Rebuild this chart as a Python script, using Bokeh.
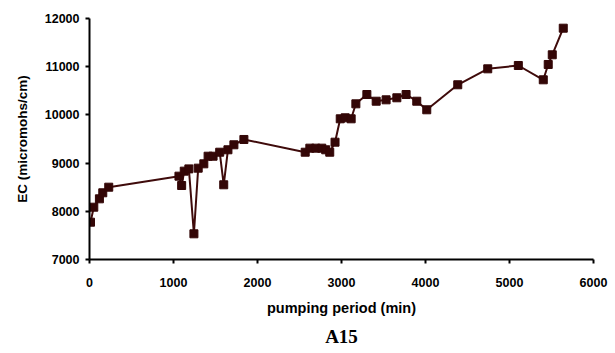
from bokeh.plotting import figure
from bokeh.models import Range1d, Title, FixedTicker
from bokeh.embed import file_html
from bokeh.resources import INLINE

time_min = [12, 51, 118, 158, 229, 1065, 1097, 1128, 1183, 1243, 1294, 1361, 1412,
            1471, 1550, 1598, 1648, 1719, 1838, 2568, 2623, 2694, 2765, 2812, 2860,
            2923, 2985, 3044, 3115, 3171, 3302, 3413, 3531, 3659, 3769, 3896, 4015,
            4384, 4741, 5105, 5402, 5461, 5509, 5640]
ec = [7774, 8085, 8259, 8384, 8500, 8729, 8535, 8833, 8880, 7533, 8895, 8985, 9143,
      9143, 9226, 8550, 9276, 9380, 9490, 9226, 9310, 9310, 9310, 9276, 9226,
      9434, 9919, 9940, 9919, 10230, 10423, 10284, 10313, 10355, 10423, 10284, 10106,
      10625, 10956, 11025, 10728, 11046, 11247, 11799]
x_ticks = [0, 1000, 2000, 3000, 4000, 5000, 6000]
y_ticks = [7000, 8000, 9000, 10000, 11000, 12000]

p = figure(width=615, height=353, output_backend="svg", toolbar_location=None,
           x_range=Range1d(0, 6000), y_range=Range1d(7000, 12000),
           min_border_left=89, min_border_right=22, min_border_top=18, min_border_bottom=94)
p.outline_line_color = None
p.xgrid.grid_line_color = None
p.ygrid.grid_line_color = None
p.background_fill_color = "white"
p.border_fill_color = "white"

p.line(time_min, ec, line_color="#3f0b0b", line_width=2)
p.scatter(time_min, ec, marker="square", size=8, fill_color="#330606", line_color="#330606")

for ax in (p.xaxis[0], p.yaxis[0]):
    ax.axis_line_width = 2
    ax.axis_line_color = "black"
    ax.major_tick_line_width = 2
    ax.major_tick_line_color = "black"
    ax.minor_tick_line_color = None
    ax.major_tick_in = 0
    ax.major_tick_out = 4
    ax.major_label_text_font = "Liberation Sans"
    ax.major_label_text_font_style = "bold"
    ax.major_label_text_font_size = "12.5px"
    ax.major_label_text_color = "black"
    ax.axis_label_text_font = "Liberation Sans"
    ax.axis_label_text_font_style = "bold"
    ax.axis_label_text_color = "black"

p.xaxis[0].ticker = FixedTicker(ticks=x_ticks)
p.yaxis[0].ticker = FixedTicker(ticks=y_ticks)
p.xaxis[0].axis_label = "pumping period (min)"
p.xaxis[0].axis_label_text_font_size = "14.5px"
p.xaxis[0].major_label_standoff = 14
p.xaxis[0].axis_label_standoff = 10
p.yaxis[0].axis_label = "EC (micromohs/cm)"
p.yaxis[0].axis_label_text_font_size = "13.5px"
p.yaxis[0].major_label_standoff = 6
p.yaxis[0].axis_label_standoff = 12

p.add_layout(Title(text="A15", align="center", text_font="Liberation Serif",
                   text_font_style="bold", text_font_size="19px", text_color="black"), "below")

open("out.html", "w").write(file_html(p, INLINE))
